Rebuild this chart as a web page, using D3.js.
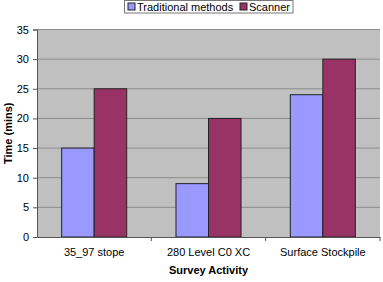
<!DOCTYPE html>
<html><head><meta charset="utf-8">
<script src="https://cdn.jsdelivr.net/npm/d3@7"></script>
<style>body{margin:0;background:#fff}svg{display:block}text{font-family:"Liberation Sans",Arial,sans-serif}</style>
</head><body><svg id="c" width="383" height="282"></svg>
<script>
const categories = ["35_97 stope", "280 Level C0 XC", "Surface Stockpile"];
const seriesNames = ["Traditional methods", "Scanner"];
const traditional = [15, 9, 24];
const scanner = [25, 20, 30];
const yTicks = [0, 5, 10, 15, 20, 25, 30, 35];
const colors = ["#9999FF", "#993366"];

const svg = d3.select("#c");
const m = {l: 37, r: 3, t: 29.5, b: 45};
const W = 383, H = 282;
const x = d3.scaleBand().domain(categories).range([m.l, W - m.r]);
const y = d3.scaleLinear().domain([0, 35]).range([H - m.b, m.t]);
const x1 = d3.scaleBand().domain(seriesNames).range([0, x.bandwidth()]).paddingOuter(0.758).paddingInner(0);

svg.append("rect").attr("x", m.l).attr("y", m.t).attr("width", W - m.r - m.l).attr("height", H - m.b - m.t)
  .attr("fill", "#C0C0C0");
svg.append("g").selectAll("line").data(yTicks.filter(d => d > 0)).join("line")
  .attr("x1", m.l).attr("x2", W - m.r).attr("y1", d => y(d)).attr("y2", d => y(d))
  .attr("stroke", "#8c8c8c").attr("stroke-width", 1);

const data = categories.map((c, i) => [traditional[i], scanner[i]]);
svg.append("g").selectAll("g").data(data).join("g")
  .attr("transform", (d, i) => `translate(${x(categories[i])},0)`)
  .selectAll("rect").data(d => d.map((v, j) => ({v, s: seriesNames[j], j}))).join("rect")
  .attr("x", d => x1(d.s)).attr("width", x1.bandwidth())
  .attr("y", d => y(d.v)).attr("height", d => y(0) - y(d.v))
  .attr("fill", d => colors[d.j]).attr("stroke", "#222").attr("stroke-width", 1);

const ya = svg.append("g").attr("transform", `translate(${m.l},0)`)
  .call(d3.axisLeft(y).tickValues(yTicks).tickSize(4).tickPadding(4));
ya.selectAll("text").attr("font-size", 11).attr("fill", "#000");
ya.select(".domain").attr("stroke", "#555");
ya.selectAll(".tick line").attr("stroke", "#555");

const xa = svg.append("g").attr("transform", `translate(0,${y(0)})`)
  .call(d3.axisBottom(x).tickSize(0).tickPadding(11));
xa.selectAll("text").attr("font-size", 11).attr("fill", "#000");
xa.select(".domain").attr("stroke", "#555");
xa.append("g").selectAll("line").data(categories.slice(1)).join("line")
  .attr("x1", d => x(d)).attr("x2", d => x(d)).attr("y1", 0).attr("y2", 4).attr("stroke", "#555");
xa.append("line").attr("x1", W - m.r).attr("x2", W - m.r).attr("y1", 0).attr("y2", 4).attr("stroke", "#555");

svg.append("text").attr("x", (m.l + W - m.r) / 2).attr("y", 274).attr("text-anchor", "middle")
  .attr("font-size", 11).attr("font-weight", "bold").text("Survey Activity");
svg.append("text").attr("transform", `translate(12,${(m.t + H - m.b) / 2}) rotate(-90)`)
  .attr("text-anchor", "middle").attr("font-size", 11).attr("font-weight", "bold").text("Time (mins)");

const lg = svg.append("g");
lg.append("rect").attr("x", 124.5).attr("y", 0.5).attr("width", 168.5).attr("height", 12.5)
  .attr("fill", "#fff").attr("stroke", "#777");
const lx = [128, 240];
seriesNames.forEach((s, i) => {
  lg.append("rect").attr("x", lx[i]).attr("y", 3).attr("width", 7).attr("height", 7)
    .attr("fill", colors[i]).attr("stroke", "#222");
  lg.append("text").attr("x", lx[i] + 9).attr("y", 11).attr("font-size", 11).text(s);
});
</script></body></html>
